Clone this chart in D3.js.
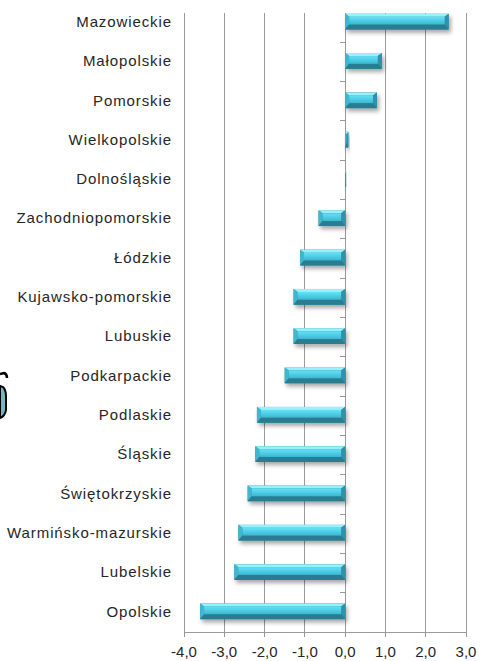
<!DOCTYPE html>
<html>
<head>
<meta charset="utf-8">
<script src="https://cdn.jsdelivr.net/npm/d3@7"></script>
<style>
  html, body { margin: 0; padding: 0; background: #fff; }
  svg { display: block; }
  .cat { font-family: "Liberation Sans", Arial, sans-serif; font-size: 15px; letter-spacing: 0.9px; fill: #262626; }
  .tick-label { font-family: "Liberation Sans", Arial, sans-serif; font-size: 15px; fill: #262626; }
</style>
</head>
<body>
<svg id="chart" width="480" height="661"></svg>
<script>
// Regions (top to bottom) and their values
const regions = [
    'Mazowieckie', 'Małopolskie', 'Pomorskie', 'Wielkopolskie', 'Dolnośląskie',
    'Zachodniopomorskie', 'Łódzkie', 'Kujawsko-pomorskie', 'Lubuskie', 'Podkarpackie',
    'Podlaskie', 'Śląskie', 'Świętokrzyskie', 'Warmińsko-mazurskie', 'Lubelskie', 'Opolskie'
];
const values = [2.57, 0.91, 0.79, 0.08, 0.02, -0.66, -1.12, -1.28, -1.28, -1.5,
    -2.19, -2.23, -2.42, -2.65, -2.75, -3.6];

const xTicks = [-4, -3, -2, -1, 0, 1, 2, 3];
const xTickLabels = ['-4,0', '-3,0', '-2,0', '-1,0', '0,0', '1,0', '2,0', '3,0'];

const svg = d3.select('#chart');

const plot = { left: 184, right: 466, top: 3, bottom: 632, gridTop: 13 };

const x = d3.scaleLinear().domain([-4, 3]).range([plot.left, plot.right]);
const y = d3.scaleBand().domain(regions).range([plot.top, plot.bottom]).paddingInner(0.6).paddingOuter(0.3);
const band = d3.scaleBand().domain(regions).range([plot.top, plot.bottom]);

// defs: face gradient + shadow
const defs = svg.append('defs');
const grad = defs.append('linearGradient').attr('id', 'face').attr('x1', 0).attr('y1', 0).attr('x2', 0).attr('y2', 1);
grad.append('stop').attr('offset', '0%').attr('stop-color', '#66e1f6');
grad.append('stop').attr('offset', '50%').attr('stop-color', '#4ecde6');
grad.append('stop').attr('offset', '100%').attr('stop-color', '#3db6cf');

const shadow = defs.append('filter').attr('id', 'shadow')
    .attr('x', '-20%').attr('y', '-50%').attr('width', '140%').attr('height', '220%');
shadow.append('feDropShadow').attr('dx', 2).attr('dy', 3).attr('stdDeviation', 2)
    .attr('flood-color', '#000').attr('flood-opacity', 0.35);

// gridlines
svg.append('g')
    .selectAll('line')
    .data(xTicks)
    .join('line')
    .attr('x1', d => x(d)).attr('x2', d => x(d))
    .attr('y1', plot.gridTop).attr('y2', plot.bottom + 5)
    .attr('stroke', '#9a9a9a').attr('stroke-width', 1)
    .attr('shape-rendering', 'crispEdges');

// bottom axis line
svg.append('line')
    .attr('x1', x(-4)).attr('x2', x(3))
    .attr('y1', plot.bottom).attr('y2', plot.bottom)
    .attr('stroke', '#9a9a9a').attr('shape-rendering', 'crispEdges');

// zero axis ticks at band boundaries
svg.append('g')
    .selectAll('line')
    .data(regions.slice(1))
    .join('line')
    .attr('x1', x(0) - 5).attr('x2', x(0))
    .attr('y1', d => band(d)).attr('y2', d => band(d))
    .attr('stroke', '#9a9a9a').attr('shape-rendering', 'crispEdges');

// tick labels
svg.append('g')
    .selectAll('text')
    .data(xTicks)
    .join('text')
    .attr('class', 'tick-label')
    .attr('x', d => x(d))
    .attr('y', plot.bottom + 25)
    .attr('text-anchor', 'middle')
    .text((d, i) => xTickLabels[i]);

// category labels
svg.append('g')
    .selectAll('text')
    .data(regions)
    .join('text')
    .attr('class', 'cat')
    .attr('x', 172)
    .attr('y', d => band(d) + band.bandwidth() / 2 - 1)
    .attr('dy', '0.35em')
    .attr('text-anchor', 'end')
    .text(d => d);

// bevelled bars
const bars = svg.append('g').selectAll('g')
    .data(regions.map((r, i) => ({ region: r, value: values[i] })))
    .join('g')
    .attr('filter', 'url(#shadow)');

bars.each(function (d) {
    const g = d3.select(this);
    const x0 = Math.min(x(0), x(d.value));
    const x1 = Math.max(x(0), x(d.value));
    const y0 = y(d.region) - 1;
    const y1 = y0 + y.bandwidth();
    const b = Math.min(4, (x1 - x0) / 2);   // side/top bevel
    const bb = 5;                           // thicker bottom bevel
    const poly = pts => pts.map(p => p.join(',')).join(' ');

    g.append('rect').attr('x', x0).attr('y', y0).attr('width', Math.max(1, x1 - x0)).attr('height', y1 - y0)
        .attr('fill', '#2b8198');
    // top bevel
    g.append('polygon').attr('points', poly([[x0, y0], [x1, y0], [x1 - b, y0 + 3], [x0 + b, y0 + 3]]))
        .attr('fill', '#98f0fc');
    // left bevel
    g.append('polygon').attr('points', poly([[x0, y0], [x0 + b, y0 + 3], [x0 + b, y1 - bb], [x0, y1]]))
        .attr('fill', '#41b6cf');
    // right bevel
    g.append('polygon').attr('points', poly([[x1, y0], [x1, y1], [x1 - b, y1 - bb], [x1 - b, y0 + 3]]))
        .attr('fill', '#2f92a9');
    // bottom bevel
    g.append('polygon').attr('points', poly([[x0, y1], [x1, y1], [x1 - b, y1 - bb], [x0 + b, y1 - bb]]))
        .attr('fill', '#2a7d91');
    // face
    if (x1 - x0 > 2 * b) {
        g.append('rect').attr('x', x0 + b).attr('y', y0 + 3)
            .attr('width', x1 - x0 - 2 * b).attr('height', y1 - y0 - 3 - bb)
            .attr('fill', 'url(#face)');
    }
});

// clipped fragment at the left edge of the picture
const frag = svg.append('g');
frag.append('path')
    .attr('d', 'M0,374 L4,373 Q7,374 7,378')
    .attr('fill', 'none').attr('stroke', '#000').attr('stroke-width', 2.5);
frag.append('path')
    .attr('d', 'M0,386 L3,387 Q6,390 6,396 L6,410 Q5,416 0,418 Z')
    .attr('fill', '#6fb8c0').attr('stroke', '#000').attr('stroke-width', 2);
</script>
</body>
</html>
